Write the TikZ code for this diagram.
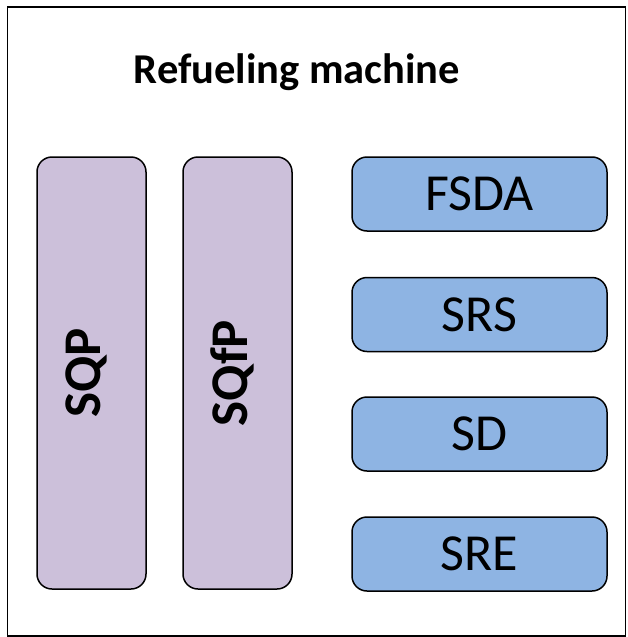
\documentclass[tikz,border=0pt]{standalone}
\usepackage{fontspec}
\setmainfont{Carlito}
\usepackage{tikz}

\definecolor{qualpurple}{HTML}{CCC0DA}
\definecolor{subblue}{HTML}{8EB4E3}

\begin{document}
\begin{tikzpicture}[x=1pt,y=-1pt,
    every node/.style={inner sep=0pt, outer sep=0pt},
    qualbox/.style={draw, line width=1.5pt, rounded corners=15pt, fill=qualpurple,
      minimum width=109pt, minimum height=432pt},
    subbox/.style={draw, line width=1.5pt, rounded corners=15pt, fill=subblue,
      minimum width=255pt, minimum height=74pt, font=\fontsize{52}{54}\selectfont}]
      \useasboundingbox (0,0) rectangle (627,637);
      % machine frame
      \node[draw, line width=1.5pt, minimum width=618pt, minimum height=629pt] (machine) at (316.5,321.5) {};
      \node[font=\bfseries\fontsize{42.5}{45}\selectfont] (title) at (297,72) {Refueling machine};
      % vertical blocks
      \node[qualbox] (SQP) at (91.5,373) {};
      \node[qualbox] (SQfP) at (237.5,373) {};
      \node[rotate=90, font=\bfseries\fontsize{53}{55}\selectfont] at ([xshift=-5pt]SQP) {SQP};
      \node[rotate=90, font=\bfseries\fontsize{53}{55}\selectfont] at ([xshift=-5pt]SQfP) {SQfP};
      % sub-systems
      \node[subbox] (FSDA) at (479.5,194) {FSDA};
      \node[subbox] (SRS) at (479.5,314.5) {SRS};
      \node[subbox] (SD) at (479.5,434) {SD};
      \node[subbox] (SRE) at (479.5,554) {SRE};
\end{tikzpicture}
\end{document}
